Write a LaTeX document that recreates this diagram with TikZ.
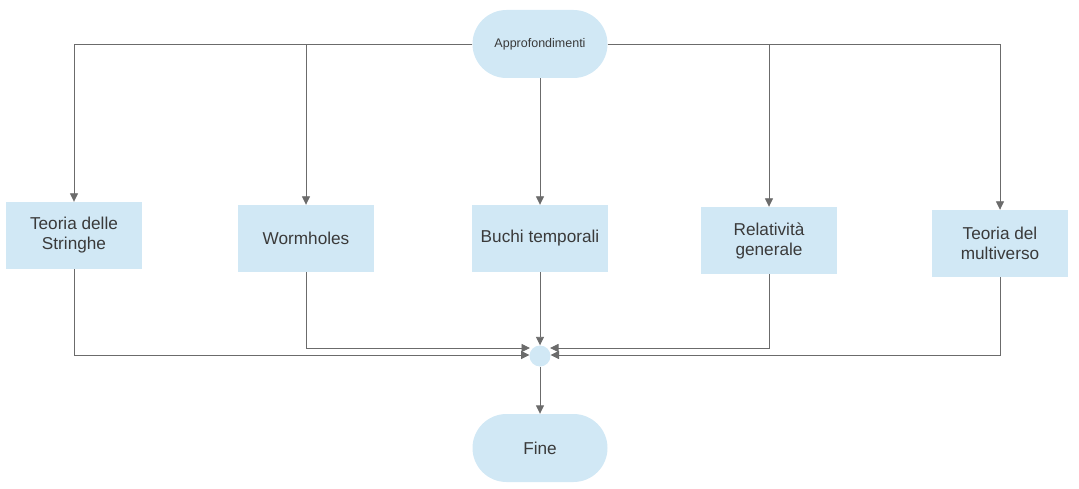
\documentclass[tikz,border=0pt]{standalone}
\usepackage{fontspec}
\setmainfont{Liberation Sans}
\usetikzlibrary{arrows.meta,shapes.misc}
\definecolor{boxfill}{HTML}{D1E8F5}
\definecolor{linec}{HTML}{6B6B6B}
\definecolor{txt}{HTML}{3A3A3A}
\begin{document}
\begin{tikzpicture}[x=1pt,y=-1pt,
  box/.style={rectangle,fill=boxfill,draw=none,minimum width=136pt,minimum height=67pt,
    align=center,text=txt,font=\fontsize{17.2}{20}\selectfont,inner sep=0pt},
  term/.style={rounded rectangle,fill=boxfill,draw=none,minimum width=135pt,minimum height=68pt,
    text=txt,inner sep=0pt},
  conn/.style={draw=linec,line width=0.9pt,-{Triangle[length=8.5pt,width=8pt]}},
  plain/.style={draw=linec,line width=0.9pt}]
\useasboundingbox (0,0) rectangle (1079,489);
\node[term,font=\fontsize{12.5}{15}\selectfont] (top) at (540,44) {Approfondimenti};
\node[box] (b1) at (74,235.5) {Teoria delle\\Stringhe};
\node[box] (b2) at (306,238.5) {Wormholes};
\node[box] (b3) at (540,238.5) {Buchi temporali};
\node[box] (b4) at (769,240.5) {Relatività\\generale};
\node[box] (b5) at (1000,243.5) {Teoria del\\multiverso};
\node[circle,fill=boxfill,minimum size=21pt,inner sep=0pt] (j) at (540,356) {};
\node[term,font=\fontsize{17.2}{20}\selectfont] (fine) at (540,448) {Fine};
\coordinate (jul) at (530,348);
\coordinate (jur) at (550,348);
\coordinate (jl) at (529.5,355);
\coordinate (jr) at (550.5,355);
% top connectors
\draw[conn] (top.west) -| (b1.north);
\draw[conn] (top.west) -| (b2.north);
\draw[conn] (top.south) -- (b3.north);
\draw[conn] (top.east) -| (b4.north);
\draw[conn] (top.east) -| (b5.north);
% bottom connectors
\draw[conn] (b1.south) |- (jl);
\draw[conn] (b2.south) |- (jul);
\draw[conn] (b3.south) -- (j.north);
\draw[conn] (b4.south) |- (jur);
\draw[conn] (b5.south) |- (jr);
\draw[conn] (j.south) -- (fine.north);
\end{tikzpicture}
\end{document}
